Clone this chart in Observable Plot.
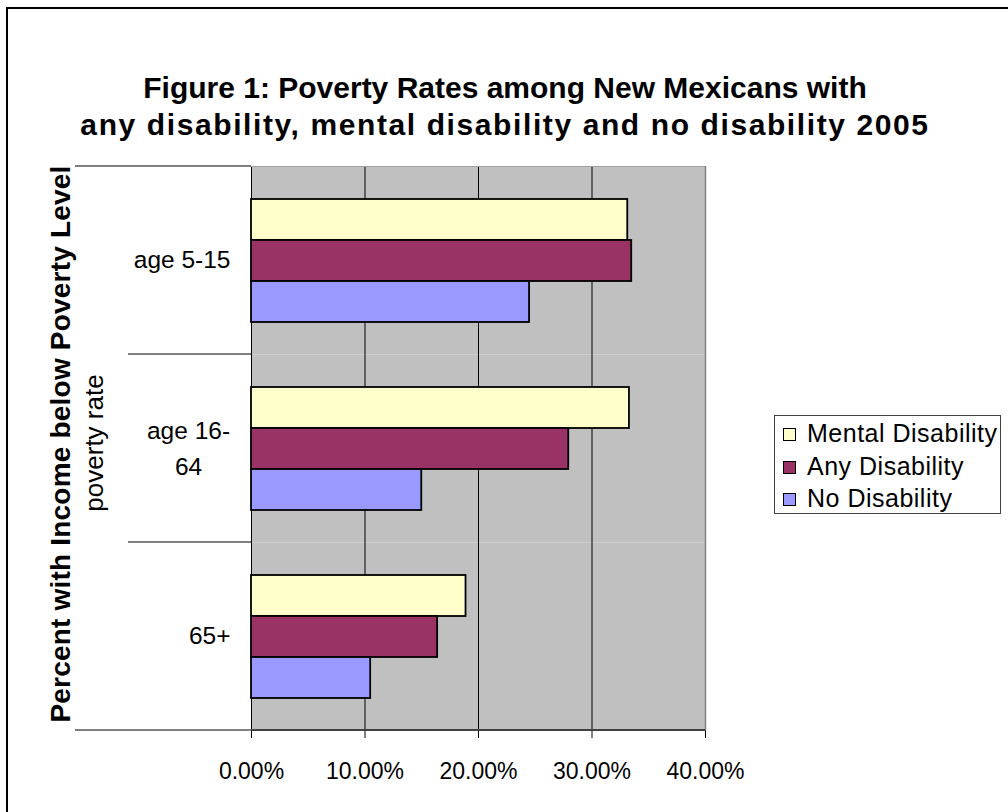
<!DOCTYPE html>
<html><head><meta charset="utf-8">
<script src="https://cdn.jsdelivr.net/npm/d3@7"></script>
<script src="https://cdn.jsdelivr.net/npm/@observablehq/plot@0.6"></script>
<style>
body{margin:0;background:#fff;font-family:"Liberation Sans",Arial,sans-serif;}
#wrap{position:relative;width:1008px;height:812px;overflow:hidden;background:#fff;}
#border{position:absolute;left:6px;top:7px;width:1100px;height:1000px;border-left:2.5px solid #000;border-top:2.5px solid #000;}
#title{position:absolute;left:0;width:1010px;top:69px;text-align:center;font-weight:bold;font-size:30px;line-height:37px;color:#000;}
#title .l2{letter-spacing:1.6px;}
#chart{position:absolute;left:0;top:0;}
#legend{position:absolute;left:774px;top:415px;width:227px;height:99px;border:1px solid #404040;box-sizing:border-box;background:#fff;}
.row{position:absolute;left:0;height:30px;width:100%;}
.sw{position:absolute;left:8px;top:10px;width:11px;height:11px;border:1px solid #000;}
.lb{position:absolute;left:32px;top:0;font-size:25px;line-height:30px;letter-spacing:0.5px;white-space:nowrap;color:#000;}
.ylab{position:absolute;white-space:nowrap;transform:translate(-50%,-50%) rotate(-90deg);color:#000;}
</style>
</head><body>
<div id="wrap">
  <div id="border"></div>
  <div id="title"><span class="l1">Figure 1: Poverty Rates among New Mexicans with</span><br><span class="l2">any disability, mental disability and no disability 2005</span></div>
  <div id="chart"></div>
  <div class="ylab" id="ytitle" style="left:61px;top:444px;font-weight:bold;font-size:28px;letter-spacing:0.2px;">Percent with Income below Poverty Level</div>
  <div class="ylab" id="ysub" style="left:94px;top:443px;font-size:26px;">poverty rate</div>
  <div id="legend"></div>
</div>
<script>
const categories = ["age 5-15", "age 16-64", "65+"];
const categoryLabels = ["age 5-15", "age 16-\n64", "65+"];
const series = ["Mental Disability", "Any Disability", "No Disability"];
const colors = ["#FFFFCC", "#993366", "#9999FF"];
const mentalValues = [33.15, 33.3, 18.9];
const anyValues = [33.5, 27.95, 16.4];
const noValues = [24.5, 15.0, 10.5];
const xTicks = [0, 10, 20, 30, 40];

const valuesBySeries = [mentalValues, anyValues, noValues];
const rows = [];
categories.forEach((c, i) => {
  series.forEach((s, j) => rows.push({cat: c, series: s, value: valuesBySeries[j][i]}));
});
const labelRows = categories.map((c, i) => ({cat: c, label: categoryLabels[i]}));

const chart = Plot.plot({
  width: 1008, height: 812,
  marginLeft: 251, marginRight: 303, marginTop: 166, marginBottom: 82,
  style: {fontFamily: "Liberation Sans, Arial, sans-serif", fontSize: "23px", color: "#000", background: "transparent"},
  fy: {domain: categories, padding: 0, axis: null},
  y: {domain: series, paddingInner: 0, paddingOuter: 0.77, axis: null},
  x: {domain: [0, 40], ticks: 4, tickFormat: d => d.toFixed(2) + "%", tickSize: 8, tickPadding: 24, label: null},
  color: {domain: series, range: colors},
  marks: [
    Plot.frame({fill: "#C0C0C0", stroke: "none"}),
    Plot.ruleX(xTicks.slice(1, 4), {stroke: "#000", strokeWidth: 1}),
    Plot.ruleX([xTicks[4]], {stroke: "#808080", strokeWidth: 1.5}),
    Plot.ruleX([xTicks[0]], {stroke: "#000", strokeWidth: 1}),
    Plot.barX(rows, {fy: "cat", y: "series", x: "value", fill: "series", stroke: "#000", strokeWidth: 1.8}),
    Plot.text(labelRows.filter(d => !d.label.includes("\n")), {fy: "cat", text: "label", frameAnchor: "left", dx: -21, textAnchor: "end", fontSize: 24.5, fill: "#000"}),
    Plot.text(labelRows.filter(d => d.label.includes("\n")), {fy: "cat", text: "label", frameAnchor: "left", dx: -63, dy: -3, textAnchor: "middle", fontSize: 24.5, lineHeight: 1.47, fill: "#000"})
  ]
});
document.getElementById("chart").appendChild(chart);

// decorative category separators and axis line using Plot's scales
const fy = chart.scale("fy");
const xs = chart.scale("x");
const x0 = xs.apply(0), x40 = xs.apply(40);
const svg = d3.select(chart);
const g = svg.append("g");
const tops = categories.map(c => fy.apply(c));
const bottom = tops[tops.length - 1] + fy.bandwidth;
tops.forEach((t, i) => {
  g.append("line").attr("x1", i === 0 ? 75 : 128).attr("x2", x0).attr("y1", t).attr("y2", t)
    .attr("stroke", "#000").attr("stroke-width", 1.2);
});
g.append("line").attr("x1", x0).attr("x2", x40).attr("y1", tops[0] + 0.5).attr("y2", tops[0] + 0.5)
  .attr("stroke", "#a0a0a0").attr("stroke-width", 1);
g.append("line").attr("x1", 75).attr("x2", x0).attr("y1", bottom).attr("y2", bottom)
  .attr("stroke", "#808080").attr("stroke-width", 2);
g.append("line").attr("x1", x0).attr("x2", x40).attr("y1", bottom).attr("y2", bottom)
  .attr("stroke", "#404040").attr("stroke-width", 2);

// legend
const legend = document.getElementById("legend");
series.forEach((s, i) => {
  const r = document.createElement("div");
  r.className = "row";
  r.style.top = (2 + i * 32.5) + "px";
  r.innerHTML = `<div class="sw" style="background:${colors[i]}"></div><div class="lb">${s}</div>`;
  legend.appendChild(r);
});
</script>
</body></html>
